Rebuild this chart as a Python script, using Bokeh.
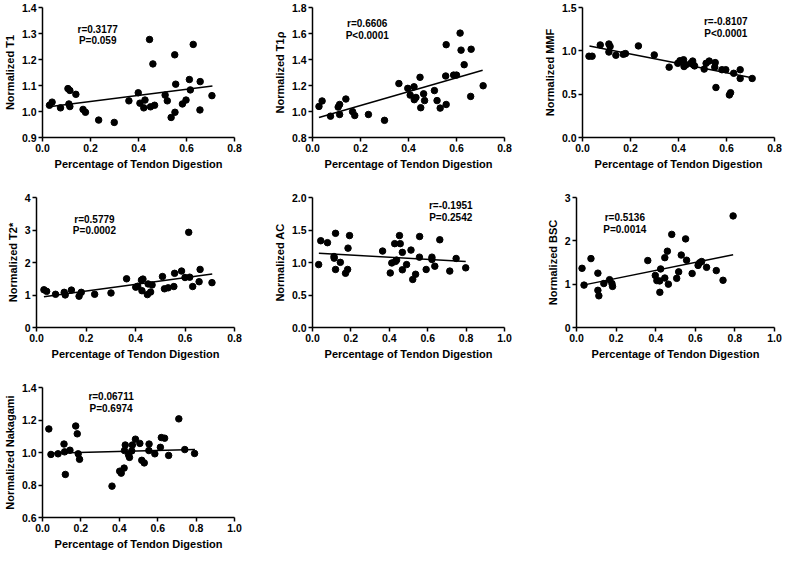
from bokeh.plotting import figure
from bokeh.layouts import column, row
from bokeh.models import Range1d, FixedTicker, NumeralTickFormatter, Label
from bokeh.embed import file_html
from bokeh.resources import INLINE

# ---------------- data ----------------
x_label = "Percentage of Tendon Digestion"

t1_x = [0.029, 0.040, 0.075, 0.106, 0.114, 0.110, 0.114, 0.139, 0.169, 0.179, 0.234, 0.299, 0.360, 0.399,
        0.406, 0.427, 0.422, 0.446, 0.460, 0.450, 0.467, 0.511, 0.520, 0.536, 0.551, 0.555, 0.552, 0.583,
        0.598, 0.612, 0.616, 0.628, 0.657, 0.656, 0.706]
t1_y = [1.024, 1.036, 1.014, 1.088, 1.081, 1.029, 1.019, 1.066, 1.008, 0.997, 0.967, 0.958, 1.041, 1.072,
        1.032, 1.044, 1.014, 1.277, 1.183, 1.018, 1.024, 1.063, 1.041, 0.977, 1.218, 1.105, 0.997, 1.029,
        1.044, 1.123, 1.083, 1.258, 1.115, 1.006, 1.061]
t1_fit_x = [0.027, 0.708]
t1_fit_y = [1.018, 1.098]

t1r_x = [0.027, 0.040, 0.075, 0.107, 0.113, 0.113, 0.139, 0.167, 0.176, 0.233, 0.300, 0.360, 0.397, 0.407,
         0.423, 0.424, 0.431, 0.448, 0.451, 0.463, 0.467, 0.508, 0.519, 0.532, 0.557, 0.555, 0.557, 0.588,
         0.600, 0.615, 0.619, 0.632, 0.661, 0.659, 0.711]
t1r_y = [1.039, 1.081, 0.964, 1.034, 1.054, 0.977, 1.096, 0.999, 0.969, 0.977, 0.932, 1.215, 1.178, 1.126,
         1.190, 1.091, 1.108, 1.263, 1.029, 1.136, 1.084, 1.161, 1.084, 1.026, 1.514, 1.273, 1.054, 1.280,
         1.280, 1.603, 1.472, 1.360, 1.479, 1.116, 1.198]
t1r_fit_x = [0.027, 0.709]
t1r_fit_y = [0.954, 1.317]

mmf_x = [0.027, 0.040, 0.074, 0.110, 0.115, 0.110, 0.139, 0.170, 0.179, 0.233, 0.299, 0.361, 0.397, 0.406,
         0.421, 0.423, 0.431, 0.451, 0.459, 0.462, 0.467, 0.507, 0.515, 0.528, 0.553, 0.551, 0.556, 0.581,
         0.597, 0.612, 0.617, 0.630, 0.657, 0.657, 0.707]
mmf_y = [0.938, 0.938, 1.068, 1.079, 1.050, 0.986, 0.949, 0.960, 0.968, 1.057, 0.953, 0.812, 0.856, 0.886,
         0.897, 0.819, 0.838, 0.856, 0.882, 0.838, 0.826, 0.789, 0.856, 0.882, 0.864, 0.812, 0.577, 0.782,
         0.782, 0.491, 0.517, 0.741, 0.782, 0.681, 0.681]
mmf_fit_x = [0.029, 0.706]
mmf_fit_y = [1.057, 0.690]

t2_x = [0.030, 0.041, 0.077, 0.112, 0.116, 0.141, 0.172, 0.181, 0.235, 0.301, 0.364, 0.401, 0.409, 0.424,
        0.430, 0.426, 0.451, 0.448, 0.461, 0.467, 0.509, 0.517, 0.532, 0.555, 0.558, 0.586, 0.600, 0.619,
        0.615, 0.631, 0.657, 0.661, 0.709]
t2_y = [1.161, 1.112, 1.022, 1.082, 1.002, 1.151, 0.963, 1.082, 1.022, 1.062, 1.499, 1.241, 1.270, 1.459,
        1.489, 1.132, 1.340, 1.012, 1.092, 1.310, 1.568, 1.191, 1.221, 1.261, 1.667, 1.737, 1.538, 1.548,
        2.928, 1.261, 1.409, 1.787, 1.380]
t2_fit_x = [0.030, 0.710]
t2_fit_y = [0.943, 1.648]

ac_x = [0.032, 0.043, 0.078, 0.112, 0.113, 0.120, 0.120, 0.145, 0.172, 0.183, 0.185, 0.193, 0.365, 0.405,
        0.413, 0.428, 0.432, 0.438, 0.453, 0.457, 0.468, 0.468, 0.490, 0.513, 0.522, 0.537, 0.558, 0.557,
        0.592, 0.622, 0.622, 0.637, 0.663, 0.715, 0.748, 0.798]
ac_y = [0.968, 1.335, 1.305, 1.092, 1.067, 1.449, 0.893, 1.002, 0.834, 0.893, 1.221, 1.414, 1.176, 0.839,
        0.993, 1.290, 1.017, 1.037, 1.414, 1.290, 1.156, 0.888, 0.968, 1.191, 0.739, 0.819, 1.400, 1.082,
        0.893, 1.082, 1.047, 0.943, 1.350, 0.868, 1.062, 0.918]
ac_fit_x = [0.033, 0.798]
ac_fit_y = [1.141, 1.017]

bsc_x = [0.028, 0.038, 0.073, 0.108, 0.108, 0.113, 0.138, 0.167, 0.179, 0.182, 0.360, 0.398, 0.406, 0.420,
         0.425, 0.421, 0.446, 0.446, 0.459, 0.464, 0.481, 0.506, 0.516, 0.529, 0.551, 0.556, 0.584, 0.614,
         0.622, 0.632, 0.657, 0.706, 0.740, 0.791]
bsc_y = [1.366, 0.978, 1.590, 1.254, 0.858, 0.731, 1.015, 1.104, 1.015, 0.948, 1.545, 1.201, 1.082, 1.075,
         1.351, 0.813, 1.612, 1.142, 1.761, 1.000, 2.149, 1.134, 1.284, 1.672, 2.045, 1.552, 1.246, 1.433,
         1.493, 1.522, 1.388, 1.313, 1.090, 2.575]
bsc_fit_x = [0.033, 0.791]
bsc_fit_y = [0.978, 1.679]

nak_x = [0.033, 0.044, 0.081, 0.112, 0.115, 0.119, 0.143, 0.173, 0.181, 0.186, 0.193, 0.362, 0.402, 0.410,
         0.425, 0.427, 0.431, 0.448, 0.453, 0.465, 0.468, 0.484, 0.507, 0.517, 0.530, 0.555, 0.554, 0.585,
         0.614, 0.619, 0.636, 0.657, 0.710, 0.741, 0.792]
nak_y = [1.145, 0.988, 0.992, 1.052, 1.004, 0.865, 1.014, 1.163, 1.115, 0.992, 0.958, 0.793, 0.885, 0.873,
         0.904, 1.012, 1.046, 0.986, 0.970, 1.010, 1.046, 1.082, 1.056, 0.952, 0.936, 1.052, 1.012, 0.992,
         1.032, 1.092, 1.088, 0.982, 1.207, 1.018, 0.994]
nak_fit_x = [0.036, 0.794]
nak_fit_y = [0.996, 1.018]

x_ticks_08 = [0.0, 0.2, 0.4, 0.6, 0.8]
x_ticks_10 = [0.0, 0.2, 0.4, 0.6, 0.8, 1.0]

FONT = "Liberation Sans"


def panel(x, y, fx, fy, xticks, yticks, yfmt, ylabel, rtxt, ptxt, tx, ty1, ty2,
          width, height, bl, br, bt, bb):
    p = figure(width=width, height=height, output_backend="svg", toolbar_location=None,
               x_range=Range1d(xticks[0], xticks[-1]), y_range=Range1d(yticks[0], yticks[-1]),
               min_border_left=bl, min_border_right=br, min_border_top=bt, min_border_bottom=bb)
    p.outline_line_color = None
    p.xgrid.visible = False
    p.ygrid.visible = False
    p.background_fill_color = "white"
    p.border_fill_color = "white"
    for ax in (p.xaxis[0], p.yaxis[0]):
        ax.axis_line_width = 1.5
        ax.axis_line_color = "black"
        ax.major_tick_line_width = 1.5
        ax.major_tick_line_color = "black"
        ax.major_tick_out = 4
        ax.major_tick_in = 0
        ax.minor_tick_line_color = None
        ax.major_label_text_font = FONT
        ax.major_label_text_font_style = "bold"
        ax.major_label_text_font_size = "10.5px"
        ax.major_label_text_color = "black"
        ax.major_label_standoff = 2
        ax.axis_label_text_font = FONT
        ax.axis_label_text_font_style = "bold"
        ax.axis_label_text_font_size = "11px"
        ax.axis_label_text_color = "black"
        ax.axis_label_standoff = 3
    p.xaxis[0].ticker = FixedTicker(ticks=xticks)
    p.xaxis[0].formatter = NumeralTickFormatter(format="0.0")
    p.yaxis[0].ticker = FixedTicker(ticks=yticks)
    p.yaxis[0].formatter = NumeralTickFormatter(format=yfmt)
    p.xaxis[0].axis_label = x_label
    p.yaxis[0].axis_label = ylabel

    p.line(fx, fy, line_color="black", line_width=1.5)
    p.scatter(x, y, marker="circle", size=6.5, fill_color="black", line_color="black")

    for txt, ty in ((rtxt, ty1), (ptxt, ty2)):
        p.add_layout(Label(x=tx, y=ty, text=txt, text_align="center", text_baseline="middle",
                           text_font=FONT, text_font_style="bold", text_font_size="10px",
                           text_color="black"))
    return p


W12, W3 = 270, 244
BL = 36

p1 = panel(t1_x, t1_y, t1_fit_x, t1_fit_y, x_ticks_08, [0.9, 1.0, 1.1, 1.2, 1.3, 1.4], "0.0",
           "Normalized T1", "r=0.3177", "P=0.059", 0.230, 1.317, 1.273, W12, 184, BL, 36, 7, 47)
p2 = panel(t1r_x, t1r_y, t1r_fit_x, t1r_fit_y, x_ticks_08, [0.8, 1.0, 1.2, 1.4, 1.6, 1.8], "0.0",
           "Normalized T1ρ", "r=0.6606", "P<0.0001", 0.228, 1.676, 1.588, W12, 184, BL, 36, 7, 47)
p3 = panel(mmf_x, mmf_y, mmf_fit_x, mmf_fit_y, x_ticks_08, [0.0, 0.5, 1.0, 1.5], "0.0",
           "Normalized MMF", "r=-0.8107", "P<0.0001", 0.597, 1.333, 1.200, W3, 184, BL, 10, 7, 47)

p4 = panel(t2_x, t2_y, t2_fit_x, t2_fit_y, x_ticks_08, [0, 1, 2, 3, 4], "0",
           "Normalized T2*", "r=0.5779", "P=0.0002", 0.234, 3.325, 2.971, W12, 190, BL, 36, 13, 47)
p5 = panel(ac_x, ac_y, ac_fit_x, ac_fit_y, x_ticks_10, [0.0, 0.5, 1.0, 1.5, 2.0], "0.0",
           "Normalized AC", "r=-0.1951", "P=0.2542", 0.720, 1.871, 1.694, W12, 190, BL, 36, 13, 47)
p6 = panel(bsc_x, bsc_y, bsc_fit_x, bsc_fit_y, x_ticks_10, [0, 1, 2, 3], "0",
           "Normalized BSC", "r=0.5136", "P=0.0014", 0.244, 2.537, 2.272, W3, 190, BL, 10, 13, 47)

p7 = panel(nak_x, nak_y, nak_fit_x, nak_fit_y, x_ticks_10, [0.6, 0.8, 1.0, 1.2, 1.4], "0.0",
           "Normalized Nakagami", "r=0.06711", "P=0.6974", 0.357, 1.344, 1.273, W12, 178, BL, 36, 13, 35)

layout = column(row(p1, p2, p3), row(p4, p5, p6), row(p7))

open("out.html", "w").write(file_html(layout, INLINE))
